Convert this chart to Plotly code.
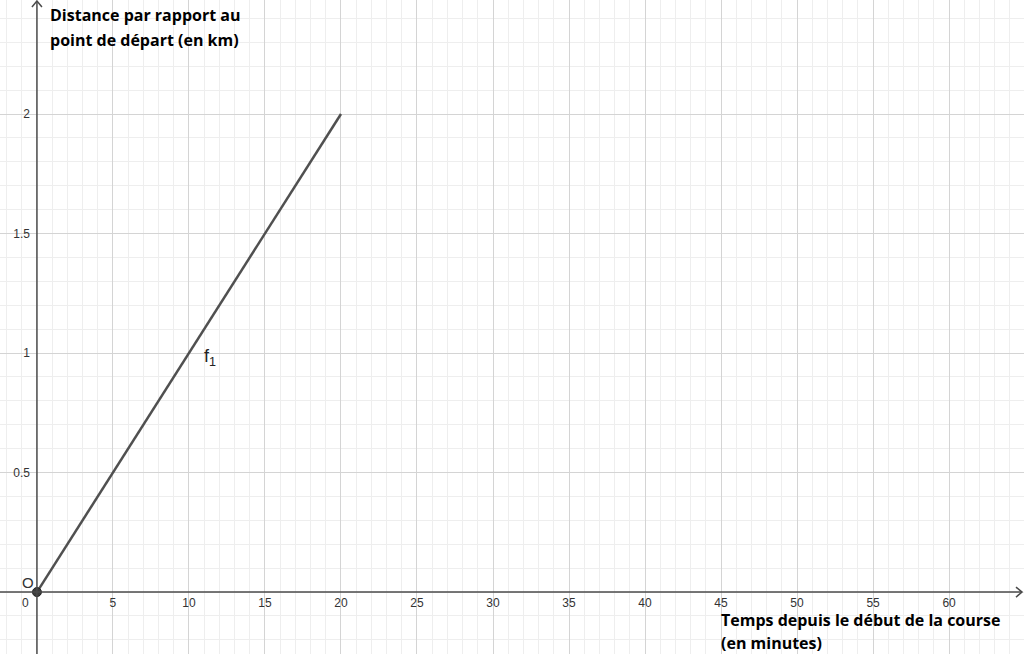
import plotly.graph_objects as go

# Data
seg_x = [0, 20]          # minutes
seg_y = [0, 2]           # km
x_ticks = [5, 10, 15, 20, 25, 30, 35, 40, 45, 50, 55, 60]
y_ticks = [0.5, 1, 1.5, 2]
y_tick_text = ["0.5", "1", "1.5", "2"]
x_range = [-2.43, 64.93]
y_range = [-0.259, 2.477]

y_title_lines = ["Distance par rapport au", "point de départ (en km)"]
x_title_lines = ["Temps depuis le début de la course", "(en minutes)"]

W, H = 1024, 654
axis_col = "#4a4a4a"
line_col = "#505050"

fig = go.Figure()

# function segment f1
fig.add_trace(go.Scatter(x=seg_x, y=seg_y, mode="lines",
                         line=dict(color=line_col, width=2.5),
                         hoverinfo="skip", showlegend=False))
# origin point
fig.add_trace(go.Scatter(x=[0], y=[0], mode="markers",
                         marker=dict(color="#3c3c3c", size=9,
                                     line=dict(color="#222", width=1)),
                         hoverinfo="skip", showlegend=False))

# arrow heads (chevrons) at the axis ends
px_x = (x_range[1] - x_range[0]) / W
px_y = (y_range[1] - y_range[0]) / H
xe = x_range[1] - 2 * px_x
fig.add_trace(go.Scatter(x=[xe - 6 * px_x, xe, xe - 6 * px_x],
                         y=[5 * px_y, 0, -5 * px_y], mode="lines",
                         line=dict(color=axis_col, width=1.5),
                         hoverinfo="skip", showlegend=False))
ye = y_range[1] - 1 * px_y
fig.add_trace(go.Scatter(x=[-5 * px_x, 0, 5 * px_x],
                         y=[ye - 6 * px_y, ye, ye - 6 * px_y], mode="lines",
                         line=dict(color=axis_col, width=1.5),
                         hoverinfo="skip", showlegend=False))

ypos = (0 - y_range[0]) / (y_range[1] - y_range[0])
xpos = (0 - x_range[0]) / (x_range[1] - x_range[0])

tick_font = dict(family="Liberation Sans, Arial, sans-serif", size=12, color="#333333")

fig.update_layout(
    width=W, height=H,
    margin=dict(l=0, r=0, t=0, b=0),
    plot_bgcolor="white", paper_bgcolor="white",
    showlegend=False,
    xaxis=dict(range=x_range, tickmode="array", tickvals=x_ticks,
               showgrid=True, gridcolor="#d4d4d4", gridwidth=1,
               zeroline=False, showline=False,
               anchor="free", position=ypos,
               ticks="", tickfont=tick_font, ticklabelstandoff=2,
               minor=dict(tickmode="linear", tick0=0, dtick=1,
                          showgrid=True, gridcolor="#eeeeee", gridwidth=1)),
    yaxis=dict(range=y_range, tickmode="array", tickvals=y_ticks,
               ticktext=y_tick_text,
               showgrid=True, gridcolor="#d4d4d4", gridwidth=1,
               zeroline=False, showline=False,
               anchor="free", position=xpos,
               ticks="", tickfont=tick_font, ticklabelstandoff=7,
               minor=dict(tickmode="linear", tick0=0, dtick=0.1,
                          showgrid=True, gridcolor="#eeeeee", gridwidth=1)),
)

# axes lines through origin
fig.add_shape(type="line", xref="x", yref="y", x0=x_range[0], x1=xe, y0=0, y1=0,
              line=dict(color=axis_col, width=1.5), layer="above")
fig.add_shape(type="line", xref="x", yref="y", x0=0, x1=0, y0=y_range[0], y1=ye,
              line=dict(color=axis_col, width=1.5), layer="above")

# labels
fig.add_annotation(x=0, y=0, xref="x", yref="y", text="0", showarrow=False,
                   xshift=-11, yshift=-11, font=tick_font)
fig.add_annotation(x=0, y=0, xref="x", yref="y", text="O", showarrow=False,
                   xshift=-9, yshift=10,
                   font=dict(family="Liberation Sans, Arial, sans-serif", size=15, color="#333"))
fig.add_annotation(x=11.4, y=0.98, xref="x", yref="y",
                   text="f<sub>1</sub>", showarrow=False,
                   font=dict(family="Liberation Sans, Arial, sans-serif", size=18, color="#222"))

title_font = dict(family="Open Sans, Liberation Sans, sans-serif", size=16, color="black")
for i, t in enumerate(y_title_lines):
    fig.add_annotation(x=48 / W, y=1 - (15 + 25 * i) / H, xref="paper", yref="paper",
                       xanchor="left", yanchor="middle", align="left",
                       text="<b>" + t + "</b>", showarrow=False, font=title_font)
for i, t in enumerate(x_title_lines):
    fig.add_annotation(x=719 / W, y=1 - (620 + 23 * i) / H, xref="paper", yref="paper",
                       xanchor="left", yanchor="middle", align="left",
                       text="<b>" + t + "</b>", showarrow=False, font=title_font)

fig.write_html("out.html", config={"displayModeBar": False},
               post_script="document.body.style.margin='0';")
